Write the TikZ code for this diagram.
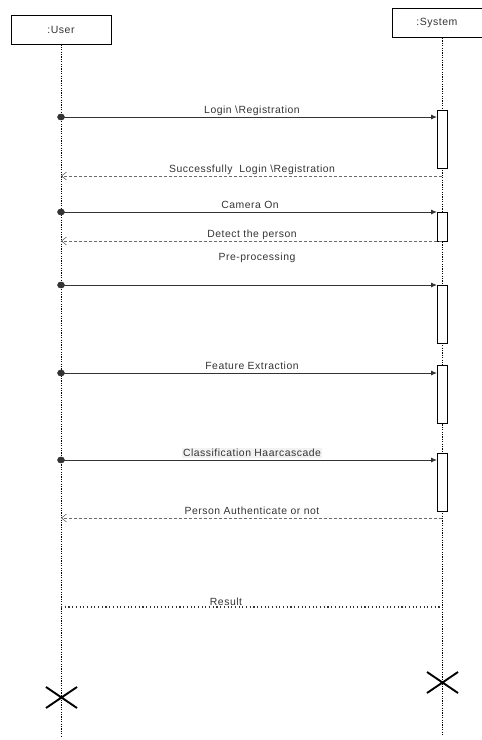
\documentclass[tikz,border=0pt]{standalone}
\usepackage{fontspec}
\setmainfont{Liberation Sans}[LetterSpace=5]
\usetikzlibrary{arrows.meta}
\definecolor{txt}{HTML}{333333}
\definecolor{lin}{HTML}{333333}
\definecolor{ret}{HTML}{6A6A6A}
\begin{document}
\begin{tikzpicture}[x=1pt,y=-1pt,
  objbox/.style={draw,line width=0.9pt,minimum width=#1,minimum height=29pt,inner sep=0pt,font=\fontsize{10.5}{11}\selectfont,text=txt},
  life/.style={line width=0.7pt,dash pattern=on 1.2pt off 1.2pt},
  actbox/.style={draw,fill=white,line width=0.8pt,minimum width=10pt,inner sep=0pt},
  call/.style={draw=lin,line width=0.9pt,shorten <=-3.8pt,{Circle[length=7.6pt,width=6.6pt]}-{Latex[length=6pt,width=5pt]}},
  reply/.style={draw=ret,line width=0.8pt,dash pattern=on 3pt off 2pt,-{Straight Barb[length=5pt,width=8pt,line width=0.6pt]}},
  lbl/.style={font=\fontsize{10.4}{11}\selectfont,text=txt,inner sep=1pt},
  endx/.style={line width=1.9pt}
]
\useasboundingbox (0,0) rectangle (482,740);
% objects
\node[objbox=100pt] (user) at (61,29.5) {:User};
\node[objbox=92pt,anchor=north west] (sys) at (392,8) {\hspace*{-3pt}:System};
% lifeline ends
\coordinate (uend) at (61,738);
\coordinate (send) at (442,735);
\draw[life] (user.south) -- (uend);
\draw[life] (sys.south -| send) -- (send);
% activation boxes
\node[actbox,minimum height=58pt,anchor=north west] (a1) at (437,110) {};
\node[actbox,minimum height=29pt,anchor=north west] (a2) at (437,212) {};
\node[actbox,minimum height=58pt,anchor=north west] (a3) at (437,285) {};
\node[actbox,minimum height=58pt,anchor=north west] (a4) at (437,365) {};
\node[actbox,minimum height=58pt,anchor=north west] (a5) at (437,453) {};
% points on the user lifeline
\coordinate (u1) at (61,117);
\coordinate (u2) at (61,176);
\coordinate (u3) at (61,212);
\coordinate (u4) at (61,241);
\coordinate (u5) at (61,285);
\coordinate (u6) at (61,373);
\coordinate (u7) at (61,460);
\coordinate (u8) at (61,518);
\coordinate (u9) at (61,607);
% points on the system lifeline
\coordinate (s2) at (442,176);
\coordinate (s4) at (442,241);
\coordinate (s8) at (442,518);
\coordinate (s9) at (442,607);
% messages
\draw[call] (u1) -- (a1.west |- u1);
\node[lbl] (l1) at (252,110.5) {Login \textbackslash Registration};
\draw[reply] (s2) -- (u2);
\node[lbl] (l2) at (252,169.5) {Successfully\ \ Login \textbackslash Registration};
\draw[call] (u3) -- (a2.west |- u3);
\node[lbl] (l3) at (250,205) {Camera On};
\draw[reply] (s4) -- (u4);
\node[lbl] (l4) at (252,234.5) {Detect the person};
\node[lbl] (l5) at (257,258) {Pre-processing};
\draw[call] (u5) -- (a3.west |- u5);
\draw[call] (u6) -- (a4.west |- u6);
\node[lbl] (l6) at (252,366) {Feature Extraction};
\draw[call] (u7) -- (a5.west |- u7);
\node[lbl,fill=black!5] (l7) at (252,453) {Classification Haarcascade};
\draw[reply] (s8) -- (u8);
\node[lbl] (l8) at (252,511) {Person Authenticate or not};
\draw[line width=1.1pt,dash pattern=on 1.1pt off 2.6pt,draw=lin] (u9) -- (s9);
\node[lbl,fill=white,inner sep=0.5pt] (l9) at (226,602) {Result};
% destruction marks
\draw[endx] (46,687) -- (77,708) (46,708) -- (77,687);
\draw[endx] (427,672) -- (458,693) (427,693) -- (458,672);
\end{tikzpicture}
\end{document}
